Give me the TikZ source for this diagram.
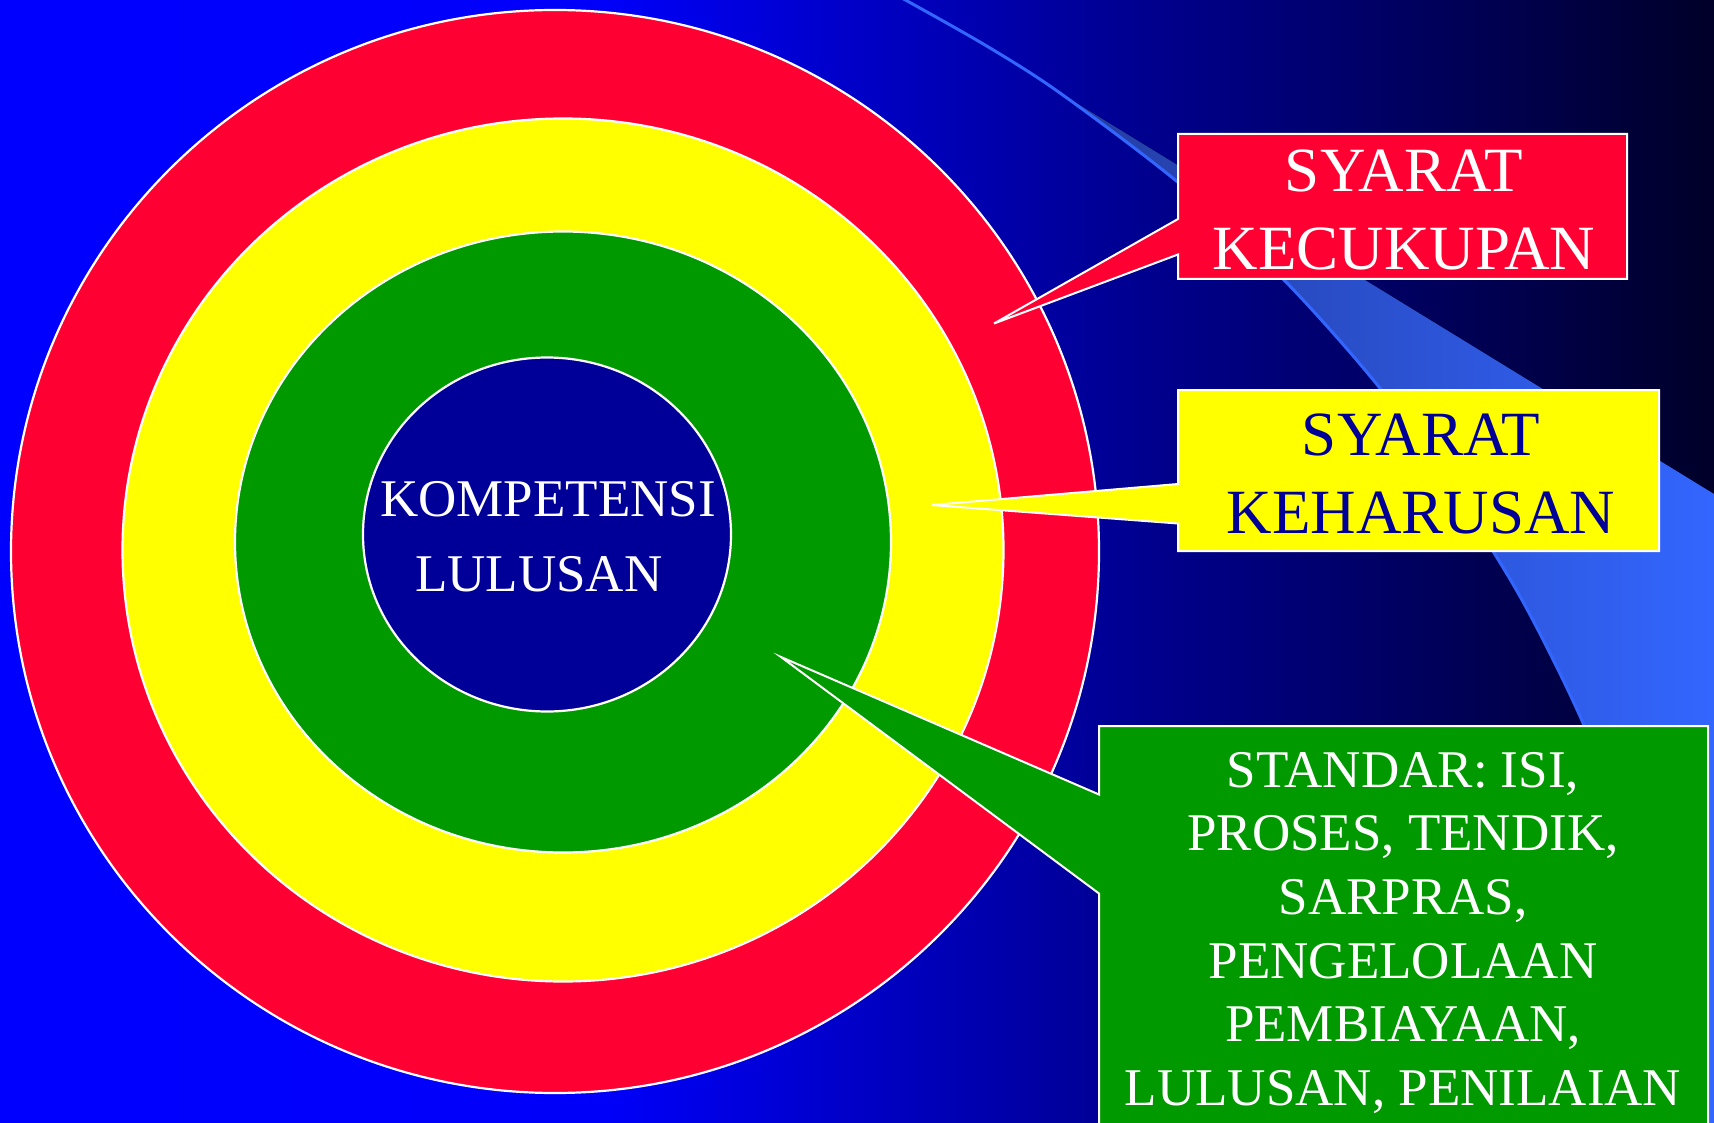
\documentclass[tikz,border=0pt]{standalone}
\usepackage{fontspec}
\setmainfont{Liberation Serif}
\definecolor{ringred}{RGB}{255,0,51}
\definecolor{ringyellow}{RGB}{255,255,0}
\definecolor{ringgreen}{RGB}{0,153,0}
\definecolor{corenavy}{RGB}{0,0,153}
\definecolor{swooshblue}{RGB}{51,102,255}
\definecolor{swooshdark}{RGB}{35,60,160}
\pgfdeclarehorizontalshading{bgshade}{100bp}{rgb(0bp)=(0,0,1); rgb(25bp)=(0,0,1); rgb(42.5bp)=(0,0,0.98); rgb(57.1bp)=(0,0,0.59); rgb(75bp)=(0,0,0.16); rgb(100bp)=(0,0,0.16)}
\begin{document}
\begin{tikzpicture}[x=1pt,y=-1pt,
  ring/.style={draw=white, line width=2.2pt},
  callout/.style={draw=white, line width=2pt, line join=miter},
  bigtext/.style={font=\fontsize{63}{77.5}\selectfont, align=center, inner sep=0pt, anchor=north},
  midtext/.style={font=\fontsize{53}{63.6}\selectfont, align=center, inner sep=0pt, anchor=north, text=white},
  coretext/.style={font=\fontsize{53}{75}\selectfont, align=center, inner sep=0pt, anchor=north, text=white}
]
\useasboundingbox (0,0) rectangle (1714,1123);
% background
\shade[shading=bgshade] (0,0) rectangle (1714,1123);
% swoosh band
\fill[left color=swooshdark, right color=swooshblue]
  plot[smooth] coordinates {(1060,93) (1180,184) (1285,281) (1379,387) (1456,494) (1522,600) (1583,723) (1635,860) (1672,1000) (1700,1123)}
  -- (1714,1123) -- (1714,494) -- cycle;
\draw[swooshblue, line width=3pt]
  plot[smooth] coordinates {(900,-3) (985,45) (1060,93) (1180,184) (1285,281) (1379,387) (1456,494) (1522,600) (1583,723) (1635,860) (1672,1000) (1700,1123)};
% rings
\draw[ring, fill=ringred] (555,551.5) ellipse [x radius=544, y radius=541.5];
\draw[ring, fill=ringyellow] (563,550) ellipse [x radius=440.5, y radius=431.5];
\draw[ring, fill=ringgreen] (563,542) ellipse [x radius=328, y radius=310.5];
\draw[ring, fill=corenavy] (547,534.5) ellipse [x radius=184, y radius=177];
% callout coordinates
\coordinate (tipA) at (994,323.5);
\coordinate (tipB) at (932,505);
\coordinate (tipC) at (781,657);
% callouts
\draw[callout, fill=ringred] (1178,134) -- (1627,134) -- (1627,279) -- (1178,279) -- (1178,254.5) -- (tipA) -- (1178,219) -- cycle;
\draw[callout, fill=ringyellow] (1178,390) -- (1659,390) -- (1659,551) -- (1178,551) -- (1178,523.5) -- (tipB) -- (1178,484) -- cycle;
\draw[callout, fill=ringgreen] (1099,726) -- (1708,726) -- (1708,1140) -- (1099,1140) -- (1099,893.5) -- (tipC) -- (1099,794.5) -- cycle;
% texts
\node[coretext] (core) at (548,481) {KOMPETENSI\\LULUSAN\hspace*{0.35em}};
\node[bigtext, text=white] (suff) at (1404,150) {SYARAT\\KECUKUPAN};
\node[bigtext, text=corenavy] (must) at (1421,414) {SYARAT\\KEHARUSAN};
\node[midtext] (std) at (1403,752) {STANDAR: ISI,\\PROSES, TENDIK,\\SARPRAS,\\PENGELOLAAN\\PEMBIAYAAN,\\LULUSAN, PENILAIAN};
\end{tikzpicture}
\end{document}
